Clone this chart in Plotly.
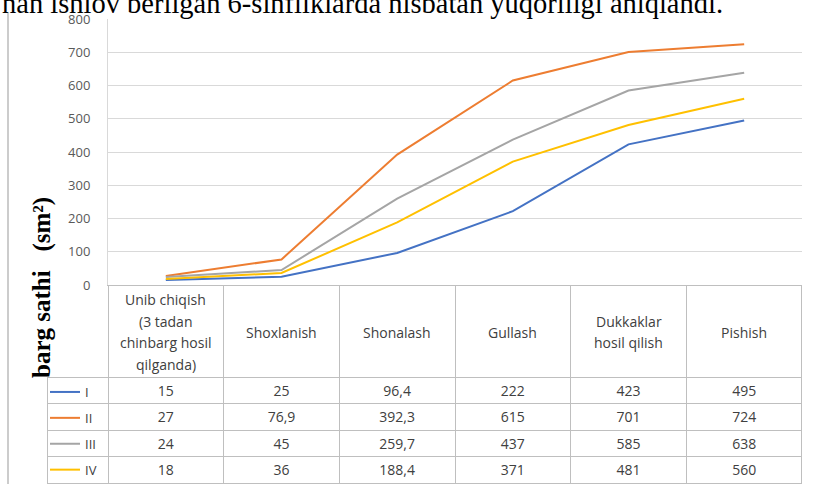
import plotly.graph_objects as go

categories = ["Unib chiqish<br>(3 tadan<br>chinbarg hosil<br>qilganda)", "Shoxlanish", "Shonalash",
              "Gullash", "Dukkaklar<br>hosil qilish", "Pishish"]
series_names = ["I", "II", "III", "IV"]
s_I = [15, 25, 96.4, 222, 423, 495]
s_II = [27, 76.9, 392.3, 615, 701, 724]
s_III = [24, 45, 259.7, 437, 585, 638]
s_IV = [18, 36, 188.4, 371, 481, 560]
series_values = [s_I, s_II, s_III, s_IV]
colors = ["#4472C4", "#ED7D31", "#A5A5A5", "#FFC000"]
y_ticks = [0, 100, 200, 300, 400, 500, 600, 700, 800]

W, H = 813, 484
ml, mr, mt, mb = 47, 11, 19, 0
pw, ph = W - ml - mr, H - mt - mb
plot_left_px = 108
plot_bottom_px = 285
header_h = 92
TXT = "#404040"
FONT = "Open Sans"

def py(px):  # pixel y (from top) -> paper y
    return (H - mb - px) / ph

def pxx(px):  # pixel x -> paper x
    return (px - ml) / pw

fig = go.Figure()
xs = list(range(len(categories)))
for name, vals, col in zip(series_names, series_values, colors):
    fig.add_trace(go.Scatter(x=xs, y=vals, mode="lines", name=name,
                             line=dict(color=col, width=2), showlegend=True,
                             legendgroup=name))

def fmt(v):
    return str(v).replace(".", ",")

columns = [[""] * len(series_names)] + [[fmt(series_values[s][i]) for s in range(len(series_names))]
                                        for i in range(len(categories))]
grid = "#BFBFBF"
clear = "rgba(0,0,0,0)"
fig.add_trace(go.Table(
    domain=dict(x=[0, 1], y=[0, py(plot_bottom_px)]),
    columnwidth=[plot_left_px - ml] + [(W - mr - plot_left_px) / 6] * 6,
    header=dict(values=[""] * (len(categories) + 1), height=header_h, align="center",
                line=dict(color=[clear] + [grid] * 6, width=1),
                fill=dict(color=[clear] + ["white"] * 6),
                font=dict(family=FONT, size=14, color=TXT)),
    cells=dict(values=columns, height=26.5, align="center",
               line=dict(color=grid, width=1), fill=dict(color=[clear] + ["white"] * 6),
               font=dict(family=FONT, size=14, color=TXT)),
))

annotations = [
    dict(text="<b>barg sathi   (sm²)</b>", xref="paper", yref="paper",
         x=pxx(42), y=py(288), xanchor="center", yanchor="middle",
         textangle=-90, showarrow=False,
         font=dict(family="Liberation Serif", size=25, color="black")),
    dict(text="nan ishlov berilgan 6-sinfliklarda nisbatan yuqoriligi aniqlandi.",
         xref="paper", yref="paper", x=pxx(0), y=1, xanchor="left", yanchor="bottom",
         showarrow=False, yshift=-2,
         font=dict(family="Liberation Serif", size=28.5, color="black")),
]
header_center = plot_bottom_px + header_h / 2 + 1
line_gap = 21.5
for i, cat in enumerate(categories):
    lines = cat.split("<br>")
    n = len(lines)
    for j, ln in enumerate(lines):
        ypx = header_center + (j - (n - 1) / 2) * line_gap
        annotations.append(dict(text=ln, xref="x", yref="paper", x=i, y=py(ypx),
                                xanchor="center", yanchor="middle", showarrow=False,
                                font=dict(family=FONT, size=14, color=TXT)))

fig.update_layout(
    width=W, height=H, margin=dict(l=ml, r=mr, t=mt, b=mb, autoexpand=False),
    paper_bgcolor="white", plot_bgcolor="white",
    showlegend=True,
    legend=dict(x=pxx(45), y=py(377), xanchor="left", yanchor="top",
                traceorder="grouped", tracegroupgap=6, bgcolor=clear,
                borderwidth=0, font=dict(family=FONT, size=13, color=TXT)),
    xaxis=dict(domain=[pxx(plot_left_px), 1], range=[-0.5, 5.5],
               showticklabels=False, showgrid=False, zeroline=False,
               showline=True, linecolor=grid, linewidth=1, fixedrange=True),
    yaxis=dict(domain=[py(plot_bottom_px), 1], range=[0, 800],
               tickvals=y_ticks, showgrid=True, gridcolor="#D9D9D9", gridwidth=1,
               zeroline=False, showline=True, linecolor="#D9D9D9", linewidth=1,
               ticklabelstandoff=14, fixedrange=True,
               tickfont=dict(family=FONT, size=13, color="#595959")),
    annotations=annotations,
    shapes=[dict(type="line", xref="paper", yref="paper",
                 x0=pxx(8), x1=pxx(8), y0=0, y1=py(13),
                 line=dict(color="#CCCCCC", width=2))],
)
fig.write_html("out.html", config={"displayModeBar": False},
               post_script="document.body.style.margin='0';")
